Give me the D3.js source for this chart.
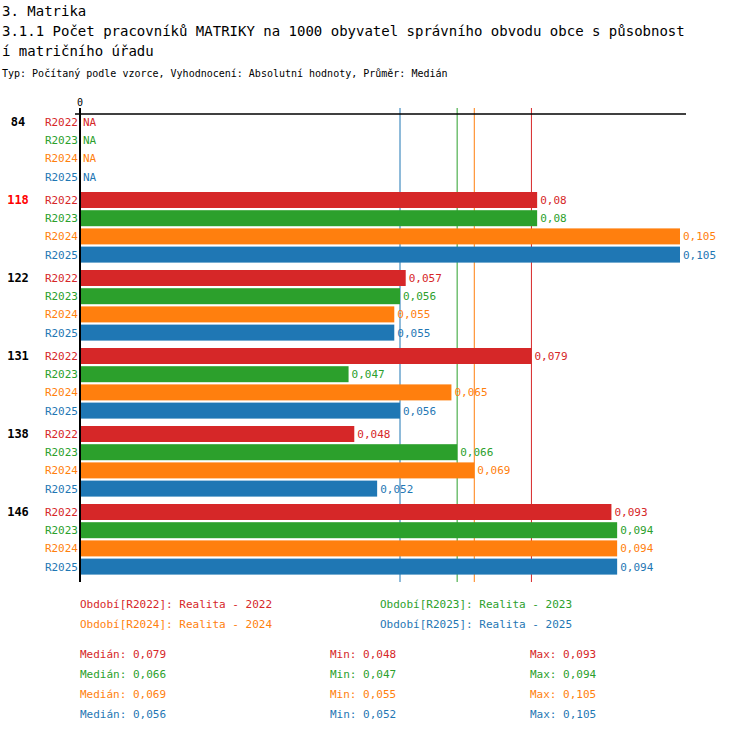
<!DOCTYPE html><html><head><meta charset="utf-8"><script src="https://cdn.jsdelivr.net/npm/d3@7"></script>
<style>body{margin:0;background:#fff}text{font-family:"DejaVu Sans Mono",monospace}</style></head><body><script>
const groups=["84","118","122","131","138","146"];
const series=["R2022","R2023","R2024","R2025"];
const colors=["#d62728","#2ca02c","#ff7f0e","#1f77b4"];
const values=[[null,null,null,null],[0.08,0.08,0.105,0.105],[0.057,0.056,0.055,0.055],[0.079,0.047,0.065,0.056],[0.048,0.066,0.069,0.052],[0.093,0.094,0.094,0.094]];
const medians=[0.079,0.066,0.069,0.056],mins=[0.048,0.047,0.055,0.052],maxs=[0.093,0.094,0.105,0.105];
const legend=["Období[R2022]: Realita - 2022","Období[R2023]: Realita - 2023","Období[R2024]: Realita - 2024","Období[R2025]: Realita - 2025"];
const svg=d3.select("body").append("svg").attr("width",750).attr("height",732);
const x=d3.scaleLinear().domain([0,0.105]).range([80,680]);
const fmt=v=>String(v).replace(".",",");
svg.append("text").attr("x",2).attr("y",16).attr("font-size",14).text("3. Matrika");
svg.append("text").attr("x",2).attr("y",36).attr("font-size",14).text("3.1.1 Počet pracovníků MATRIKY na 1000 obyvatel správního obvodu obce s působnost");
svg.append("text").attr("x",2).attr("y",56).attr("font-size",14).text("í matričního úřadu");
svg.append("text").attr("x",2).attr("y",77).attr("font-size",10).text("Typ: Počítaný podle vzorce, Vyhodnocení: Absolutní hodnoty, Průměr: Medián");
medians.forEach((m,i)=>svg.append("line").attr("x1",x(m)).attr("x2",x(m)).attr("y1",108).attr("y2",582).attr("stroke",colors[i]).attr("stroke-width",1));
svg.append("line").attr("x1",75).attr("x2",686).attr("y1",114).attr("y2",114).attr("stroke","#000").attr("stroke-width",1.5);
svg.append("line").attr("x1",80).attr("x2",80).attr("y1",108).attr("y2",582).attr("stroke","#000").attr("stroke-width",2);
svg.append("text").attr("x",80).attr("y",106).attr("font-size",10).attr("text-anchor","middle").text("0");
groups.forEach((g,gi)=>{
  const y0=122+gi*78;
  svg.append("text").attr("x",18).attr("y",y0+4).attr("font-size",12).attr("font-weight","bold").attr("text-anchor","middle").attr("fill",g==="118"?"#ff0000":"#000").text(g);
  series.forEach((s,si)=>{
    const cy=y0+si*18.2,v=values[gi][si];
    svg.append("text").attr("x",78).attr("y",cy+4).attr("font-size",11).attr("text-anchor","end").attr("fill",colors[si]).text(s);
    if(v!=null) svg.append("rect").attr("x",81).attr("y",cy-8).attr("width",x(v)-81).attr("height",16).attr("fill",colors[si]);
    svg.append("text").attr("x",(v==null?x(0):x(v))+3).attr("y",cy+4).attr("font-size",11).attr("fill",colors[si]).text(v==null?"NA":fmt(v));
  });
});
legend.forEach((l,i)=>svg.append("text").attr("x",i%2?380:80).attr("y",608+Math.floor(i/2)*20).attr("font-size",11).attr("fill",colors[i]).text(l));
series.forEach((s,i)=>{const y=658+i*20;
  svg.append("text").attr("x",80).attr("y",y).attr("font-size",11).attr("fill",colors[i]).text("Medián: "+fmt(medians[i]));
  svg.append("text").attr("x",330).attr("y",y).attr("font-size",11).attr("fill",colors[i]).text("Min: "+fmt(mins[i]));
  svg.append("text").attr("x",530).attr("y",y).attr("font-size",11).attr("fill",colors[i]).text("Max: "+fmt(maxs[i]));
});
</script></body></html>
